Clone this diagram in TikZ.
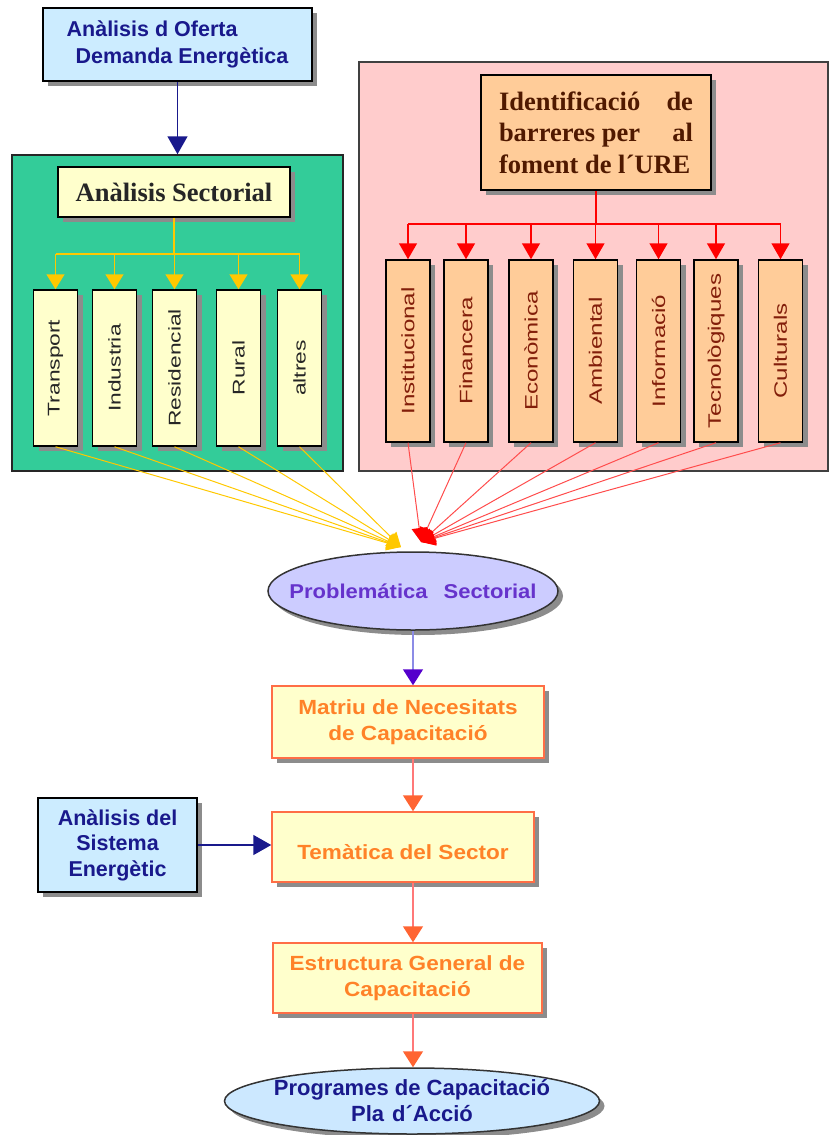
\documentclass[tikz,border=0pt]{standalone}
\usepackage{fontspec}
\newfontfamily\lsans{Liberation Sans}
\newfontfamily\lsansw[FakeStretch=1.1]{Liberation Sans}
\newfontfamily\lserif{Liberation Serif}
\newfontfamily\vsans[FakeStretch=1.34]{Liberation Sans}
\usetikzlibrary{shapes.geometric,arrows.meta,shadows,calc}
\definecolor{cNavy}{RGB}{25,25,140}
\definecolor{cBlueFill}{RGB}{204,236,255}
\definecolor{cGreen}{RGB}{51,204,153}
\definecolor{cYellowFill}{RGB}{255,255,204}
\definecolor{cPink}{RGB}{255,204,204}
\definecolor{cPeach}{RGB}{255,204,153}
\definecolor{cLav}{RGB}{204,204,255}
\definecolor{cPurpleTxt}{RGB}{102,51,204}
\definecolor{cPurpleTip}{RGB}{85,0,204}
\definecolor{cPurpleLine}{RGB}{140,140,230}
\definecolor{cOrangeTxt}{RGB}{255,130,40}
\definecolor{cOrangeBorder}{RGB}{255,110,70}
\definecolor{cSalmonTip}{RGB}{255,100,50}
\definecolor{cPinkLine}{RGB}{255,120,120}
\definecolor{cYel}{RGB}{255,200,0}
\definecolor{cRed}{RGB}{255,0,0}
\definecolor{cRedTxt}{RGB}{130,30,10}
\definecolor{cBrown}{RGB}{80,25,0}
\definecolor{cLightBlue}{RGB}{204,232,255}
\newcommand\vtxt[1]{\rotatebox{90}{#1}}
\begin{document}
\begin{tikzpicture}[x=1pt,y=-1pt,
  shad/.style={drop shadow={shadow xshift=5pt,shadow yshift=-5pt,fill=black!45,opacity=1}},
  box/.style={draw=black, line width=1.5pt, inner sep=0pt, shad, align=center},
  lvbox/.style={box, fill=cYellowFill, minimum width=44pt, minimum height=156pt,
    font=\vsans\fontsize{17}{20}\selectfont, text=black!85},
  rvbox/.style={box, fill=cPeach, minimum width=44pt, minimum height=182pt,
    font=\vsans\fontsize{18}{20}\selectfont, text=cRedTxt},
  obox/.style={draw=cOrangeBorder, line width=1.5pt, inner sep=0pt, shad, align=center,
    fill=cYellowFill, text=cOrangeTxt, font=\lsansw\bfseries\fontsize{20.5}{26}\selectfont},
  bbox/.style={box, fill=cBlueFill, text=cNavy, font=\lsans\bfseries\fontsize{21.5}{25.5}\selectfont},
  ell/.style={ellipse, draw=black!80, line width=1.5pt, inner sep=0pt, shad},
  yline/.style={draw=cYel, line width=1.5pt},
  ytip/.style={-{Triangle[width=18pt,length=15pt,color=cYel]}},
  rline/.style={draw=cRed, line width=1.5pt},
  rtip/.style={-{Triangle[width=18pt,length=16pt,color=cRed]}},
  yconv/.style={draw=cYel, line width=1pt, -{Triangle[width=15pt,length=14pt,color=cYel]}},
  rconv/.style={draw=cRed!70, line width=1pt, -{Triangle[width=15pt,length=14pt,color=cRed]}},
  navyarrow/.style={draw=cNavy, line width=1.5pt, -{Triangle[width=20pt,length=18pt,color=cNavy]}},
  purplearrow/.style={draw=cPurpleLine, line width=1.5pt, -{Triangle[width=20pt,length=16pt,color=cPurpleTip]}},
  salmonarrow/.style={draw=cPinkLine, line width=1.5pt, -{Triangle[width=20pt,length=16pt,color=cSalmonTip]}}
]
\useasboundingbox (0,0) rectangle (830,1135);

% top box
\node[box, fill=cBlueFill, minimum width=269pt, minimum height=73pt, text=cNavy,
  font=\lsans\bfseries\fontsize{21.5}{27}\selectfont, align=left] (oferta) at (177.5,44.5)
  {Anàlisis d Oferta\\\hspace*{9pt}Demanda Energètica};

% green panel
\node[draw=black!85, line width=1.5pt, fill=cGreen, minimum width=331pt, minimum height=316pt, inner sep=0pt] (green) at (177.5,313) {};
% pink panel
\node[draw=black!75, line width=1.5pt, fill=cPink, minimum width=469pt, minimum height=409pt, inner sep=0pt] (pink) at (593.5,266.5) {};

\draw[navyarrow] (oferta.south) -- (oferta.south |- green.north);

% sectorial
\node[box, fill=cYellowFill, minimum width=232pt, minimum height=50pt, text=black!85,
  font=\lserif\bfseries\fontsize{26.5}{30}\selectfont] (sect) at (174,192) {Anàlisis Sectorial};

\node[lvbox] (lt1) at (55.5,368) {\vtxt{Transport}};
\node[lvbox] (lt2) at (114.5,368) {\vtxt{Industria}};
\node[lvbox] (lt3) at (174.5,368) {\vtxt{Residencial}};
\node[lvbox] (lt4) at (238.5,368) {\vtxt{Rural}};
\node[lvbox] (lt5) at (299.5,368) {\vtxt{altres}};

\coordinate (ybus) at (174,254);
\draw[yline] (sect.south) -- (ybus);
\draw[yline] (ybus -| lt1.north) -- (ybus -| lt5.north);
\foreach \n in {lt1,lt2,lt3,lt4,lt5} \draw[yline,ytip] (ybus -| \n.north) -- (\n.north);

% identificacio
\node[box, fill=cPeach, minimum width=230pt, minimum height=115pt, text=cBrown,
  font=\lserif\bfseries\fontsize{26.5}{31.5}\selectfont] (ident) at (596,132.5)
  {\parbox{194pt}{Identificació\hfill de\\barreres per\hfill al\\foment de l´URE}};

\node[rvbox] (r1) at (408,351) {\vtxt{Institucional}};
\node[rvbox] (r2) at (466,351) {\vtxt{Financera}};
\node[rvbox] (r3) at (531,351) {\vtxt{Econòmica}};
\node[rvbox] (r4) at (595.5,351) {\vtxt{Ambiental}};
\node[rvbox] (r5) at (658.5,351) {\vtxt{Informació}};
\node[rvbox] (r6) at (716,351) {\vtxt{Tecnològiques}};
\node[rvbox] (r7) at (780.5,351) {\vtxt{Culturals}};

\coordinate (rbus) at (596,224);
\draw[rline] (ident.south) -- (rbus);
\draw[rline] (rbus -| r1.north) -- (rbus -| r7.north);
\foreach \n in {r1,r2,r3,r4,r5,r6,r7} \draw[rline,rtip] (rbus -| \n.north) -- (\n.north);

% problematica
\node[ell, fill=cLav, minimum width=290pt, minimum height=78pt,
  label={[text=cPurpleTxt, font=\lsansw\bfseries\fontsize{20}{23}\selectfont]center:Problemática\hspace{16pt}Sectorial}] (prob) at (413,591) {};

\coordinate (yc) at (401,547);
\coordinate (rc) at (421,542);
\foreach \n in {lt1,lt2,lt3,lt4,lt5} \draw[yconv] (\n.south) -- (yc);
\foreach \n in {r1,r2,r3,r4,r5,r6,r7} \draw[rconv] (\n.south) -- (rc);

% lower chain
\node[obox, minimum width=272pt, minimum height=72pt] (matriu) at (408,722) {Matriu de Necesitats\\de Capacitació};
\node[obox, minimum width=262pt, minimum height=70pt] (tem) at (403,847) {\mbox{}\\Temàtica del Sector};
\node[obox, minimum width=269pt, minimum height=70pt] (estr) at (407.5,978) {Estructura General de\\Capacitació};
\node[bbox, minimum width=159pt, minimum height=94pt] (sist) at (117.5,845) {Anàlisis del\\Sistema\\Energètic};
\node[ell, fill=cLightBlue, minimum width=375pt, minimum height=66pt,
  label={[align=center, text=cNavy, font=\lsans\bfseries\fontsize{22}{26}\selectfont]center:Programes de Capacitació\\Pla\hspace{8pt}d´Acció}] (prog) at (412,1101) {};

\draw[purplearrow] (prob.south) -- (prob.south |- matriu.north);
\draw[salmonarrow] (prob.south |- matriu.south) -- (prob.south |- tem.north);
\draw[salmonarrow] (prob.south |- tem.south) -- (prob.south |- estr.north);
\draw[salmonarrow] (prob.south |- estr.south) -- (prob.south |- prog.north);
\draw[navyarrow] (sist.east) -- (sist.east -| tem.west);
\end{tikzpicture}
\end{document}
